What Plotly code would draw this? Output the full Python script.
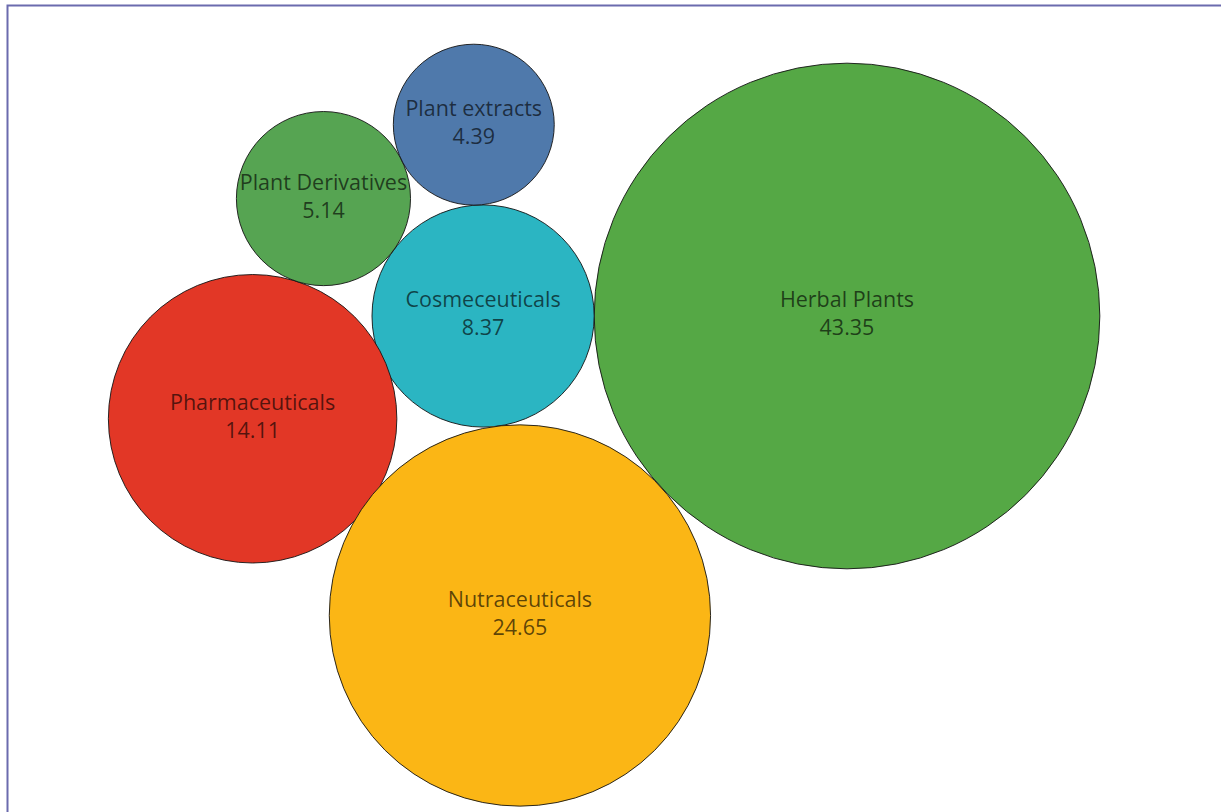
import math
import plotly.graph_objects as go

# ---- data ----
categories = ["Herbal Plants", "Cosmeceuticals", "Nutraceuticals",
              "Pharmaceuticals", "Plant Derivatives", "Plant extracts"]
values = [43.35, 8.37, 24.65, 14.11, 5.14, 4.39]
colors = ["#55A845", "#2BB5C2", "#FBB615", "#E23726", "#56A452", "#4F79AB"]

# ---- packed-bubble layout computed from the values ----
K = 38.4  # px per sqrt(value)
radius = {c: K * math.sqrt(v) for c, v in zip(categories, values)}


def tangent(p1, r1, p2, r2, r, side, gap=0.0):
    d1, d2 = r1 + r + gap, r2 + r + gap
    dx, dy = p2[0] - p1[0], p2[1] - p1[1]
    d = math.hypot(dx, dy)
    a = (d1 * d1 - d2 * d2 + d * d) / (2 * d)
    h = math.sqrt(max(d1 * d1 - a * a, 0))
    ux, uy = dx / d, dy / d
    return (p1[0] + a * ux - side * h * uy, p1[1] + a * uy + side * h * ux)


pos = {}
pos["Herbal Plants"] = (0.0, 0.0)
pos["Cosmeceuticals"] = (-(radius["Herbal Plants"] + radius["Cosmeceuticals"]), 0.0)
pos["Nutraceuticals"] = tangent(pos["Herbal Plants"], radius["Herbal Plants"],
                                pos["Cosmeceuticals"], radius["Cosmeceuticals"],
                                radius["Nutraceuticals"], 1)
pos["Pharmaceuticals"] = tangent(pos["Cosmeceuticals"], radius["Cosmeceuticals"],
                                 pos["Nutraceuticals"], radius["Nutraceuticals"],
                                 radius["Pharmaceuticals"], -1, gap=-3)
pos["Plant Derivatives"] = tangent(pos["Pharmaceuticals"], radius["Pharmaceuticals"],
                                   pos["Cosmeceuticals"], radius["Cosmeceuticals"],
                                   radius["Plant Derivatives"], 1)
pos["Plant extracts"] = tangent(pos["Plant Derivatives"], radius["Plant Derivatives"],
                                pos["Cosmeceuticals"], radius["Cosmeceuticals"],
                                radius["Plant extracts"], 1)

draw_order = ["Herbal Plants", "Cosmeceuticals", "Pharmaceuticals",
              "Nutraceuticals", "Plant Derivatives", "Plant extracts"]
idx = [categories.index(c) for c in draw_order]

xs = [pos[c][0] for c in draw_order]
ys = [pos[c][1] for c in draw_order]
vals = [values[i] for i in idx]
cols = [colors[i] for i in idx]
texts = [f"{c}<br>{values[i]:.2f}" for c, i in zip(draw_order, idx)]

fig = go.Figure(go.Scatter(
    x=xs, y=ys, mode="markers+text",
    text=texts, textposition="middle center",
    textfont=dict(family="Open Sans", size=21.5, color="rgba(0,0,0,0.64)"),
    marker=dict(size=vals, sizemode="area", sizeref=1 / (2 * K * K),
                color=cols, opacity=1,
                line=dict(color="rgba(20,20,20,0.9)", width=1)),
    cliponaxis=False, hoverinfo="skip",
))

W, H = 1221, 812
cx, cy = 847, 316  # pixel location of the largest bubble's centre
fig.update_layout(
    width=W, height=H,
    margin=dict(l=0, r=0, t=0, b=0),
    paper_bgcolor="white", plot_bgcolor="white",
    showlegend=False,
    xaxis=dict(range=[-cx, W - cx], visible=False, fixedrange=True),
    yaxis=dict(range=[-(H - cy), cy], visible=False, fixedrange=True),
    shapes=[dict(type="rect", xref="paper", yref="paper",
                 x0=7.5 / W, x1=1.02, y0=-0.02, y1=1 - 5.5 / H,
                 line=dict(color="#6B6BAE", width=2), fillcolor="rgba(0,0,0,0)")],
)

fig.write_html("out.html",
               config={"displayModeBar": False},
               post_script="document.body.style.margin='0';"
                           "document.body.style.overflow='hidden';")
